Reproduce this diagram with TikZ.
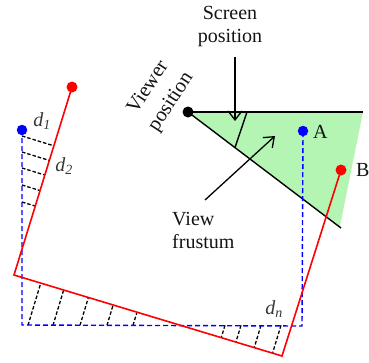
\documentclass[tikz,border=0pt]{standalone}
\usepackage{fontspec}
\setmainfont{Liberation Serif}
\usetikzlibrary{arrows.meta,calc}
\definecolor{frust}{RGB}{180,245,180}
\definecolor{txt}{RGB}{20,20,20}
\definecolor{dlbl}{RGB}{55,55,55}
\begin{document}
\begin{tikzpicture}[x=1pt,y=-1pt,
  redline/.style={red, line width=1.6pt},
  blueline/.style={blue, dash pattern=on 5pt off 3pt, line width=1.4pt},
  hatch/.style={black, dash pattern=on 3.5pt off 2pt, line width=1.3pt},
  blk/.style={black, line width=1.4pt},
  arr/.style={black, line width=1.3pt, -{Straight Barb[length=9pt,width=14pt,line width=1.3pt]}},
  dotr/.style={circle, fill=red, inner sep=0pt, minimum size=11pt},
  dotb/.style={circle, fill=blue, inner sep=0pt, minimum size=10.5pt},
  dotk/.style={circle, fill=black, inner sep=0pt, minimum size=11pt},
  lbl/.style={font=\fontsize{20}{23}\selectfont, text=txt, inner sep=0pt},
  dl/.style={font=\fontsize{20}{23}\selectfont\itshape, text=dlbl, inner sep=0pt}
]
\useasboundingbox (0,0) rectangle (369,362);
% coordinates
\coordinate (R1) at (72,87);
\coordinate (R2) at (14,275);
\coordinate (R3) at (282,356);
\coordinate (R4) at (341,170);
\coordinate (B1) at (22,130);
\coordinate (B2) at (22,325);
\coordinate (B3) at (302,326);
\coordinate (B4) at (303,131);
\coordinate (V) at (188,112);
\coordinate (T) at (363,112);
\coordinate (F) at (340,226);
\coordinate (F2) at (341,228);
\coordinate (S1) at (247,112);
\coordinate (S2) at ($(V)!0.307!(F2)$);
% frustum
\fill[frust] (V) -- (T) -- (F) -- cycle;
\draw[blk] (V) -- (T);
\draw[blk] (V) -- (F2);
\draw[blk] (S1) -- (S2);
% hatches
\foreach \yy in {136,152,168,185,202}{
  \coordinate (h) at (22,\yy);
  \draw[hatch] (h) -- ($(R1)!(h)!(R2)$);
}
\foreach \xx in {28,53,80,107,133,225,241,261,281}{
  \coordinate (h) at (\xx,325.3);
  \draw[hatch] (h) -- ($(R2)!(h)!(R3)$);
}
% blue path
\draw[blueline] (B1) -- (B2) -- (B3) -- (B4);
% red path
\draw[redline, line join=miter] (R1) -- (R2) -- (R3) -- (R4);
% dots
\node[dotr] (dR1) at (R1) {};
\node[dotr] (dR4) at (R4) {};
\node[dotb] (dB1) at (B1) {};
\node[dotb] (dB4) at (B4) {};
\node[dotk] (dV) at (V) {};
% arrows
\coordinate (SA0) at (235,57);
\coordinate (SA1) at (235,121);
\draw[arr] (SA0) -- (SA1);
\coordinate (VA0) at (205,200);
\coordinate (VA1) at (275,136);
\draw[arr] (VA0) -- (VA1);
% labels
\node[lbl, align=center] (scr) at (230,27) {Screen\\position};
\node[lbl, align=left, anchor=north west] (vf) at (172,212) {View\\frustum};
\node[lbl, font=\fontsize{20.5}{27}\selectfont, align=center, rotate=57] (vp) at (160,95) {Viewer\\position};
\node[lbl, anchor=west] (lA) at (313,132) {A};
\node[lbl, anchor=west] (lB) at (356,170) {B};
\node[dl] (d1) at (42,121) {d\textsubscript{1}};
\node[dl] (d2) at (64,166) {d\textsubscript{2}};
\node[dl] (dn) at (274,309) {d\textsubscript{n}};
\end{tikzpicture}
\end{document}
